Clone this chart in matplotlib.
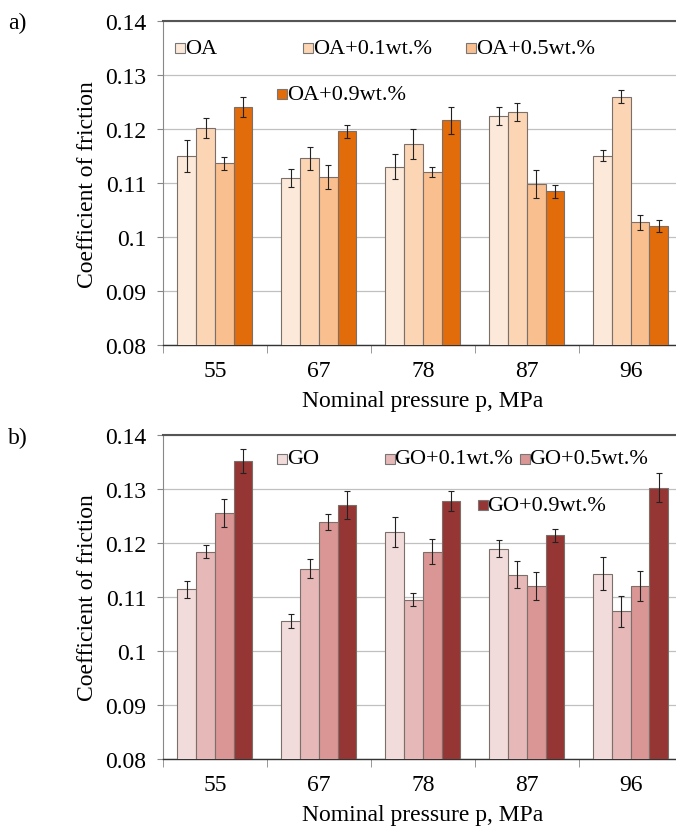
import numpy as np
import matplotlib
matplotlib.use("Agg")
import matplotlib.pyplot as plt

plt.rcParams['font.family'] = ['Liberation Serif', 'DejaVu Serif']

# x categories
pressures = ["55", "67", "78", "87", "96"]

# panel a) oleic acid series
oa_names = ["OA", "OA+0.1wt.%", "OA+0.5wt.%", "OA+0.9wt.%"]
oa_vals = [
    [0.1151, 0.1110, 0.1131, 0.1225, 0.1151],
    [0.1202, 0.1146, 0.1173, 0.1232, 0.1260],
    [0.1137, 0.1111, 0.1121, 0.1098, 0.1028],
    [0.1241, 0.1196, 0.1217, 0.1085, 0.1020],
]
oa_err = [
    [0.0030, 0.0017, 0.0023, 0.0017, 0.0010],
    [0.0019, 0.0022, 0.0028, 0.0016, 0.0012],
    [0.0012, 0.0022, 0.0010, 0.0026, 0.0014],
    [0.0019, 0.0012, 0.0025, 0.0012, 0.0011],
]
oa_colors = ["#fde9d9", "#fcd5b4", "#fabf8f", "#e26b0a"]

# panel b) graphene oxide series
go_names = ["GO", "GO+0.1wt.%", "GO+0.5wt.%", "GO+0.9wt.%"]
go_vals = [
    [0.1114, 0.1056, 0.1220, 0.1189, 0.1143],
    [0.1183, 0.1152, 0.1095, 0.1141, 0.1073],
    [0.1255, 0.1238, 0.1183, 0.1120, 0.1120],
    [0.1351, 0.1270, 0.1277, 0.1214, 0.1302],
]
go_err = [
    [0.0016, 0.0013, 0.0028, 0.0016, 0.0030],
    [0.0012, 0.0017, 0.0012, 0.0025, 0.0029],
    [0.0026, 0.0015, 0.0023, 0.0026, 0.0027],
    [0.0022, 0.0026, 0.0018, 0.0012, 0.0026],
]
go_colors = ["#f2dcdb", "#e6b8b7", "#da9694", "#963634"]

FS = 17
LEG_FS = 16


def panel(ax, names, vals, errs, colors, leg_pos):
    x = np.arange(len(pressures))
    w = 0.18
    for i in range(len(names)):
        ax.bar(x + (i - 1.5) * w, vals[i], w, color=colors[i], edgecolor="#7a6f6a",
               linewidth=0.8, zorder=3)
        ax.errorbar(x + (i - 1.5) * w, vals[i], yerr=errs[i], fmt="none",
                    ecolor="#222222", elinewidth=0.8, capsize=2.5, capthick=0.8, zorder=4)
    ax.set_xlim(-0.5, 4.5)
    ax.set_ylim(0.08, 0.14)
    ax.set_yticks([0.08, 0.09, 0.10, 0.11, 0.12, 0.13, 0.14])
    ax.set_yticklabels(["0.08", "0.09", "0.1", "0.11", "0.12", "0.13", "0.14"])
    ax.set_xticks(x)
    ax.set_xticklabels(pressures)
    ax.set_xticks(np.arange(-0.5, 5, 1.0), minor=True)
    ax.tick_params(axis="x", which="major", length=0, pad=11, labelsize=FS)
    ax.tick_params(axis="x", which="minor", length=6, color="#888888", direction="out")
    ax.tick_params(axis="y", length=4, color="#888888", pad=8, labelsize=FS)
    ax.grid(axis="y", color="#c0c0c0", linewidth=0.9, zorder=0)
    ax.spines["right"].set_visible(False)
    ax.spines["top"].set_color("#555555")
    ax.spines["top"].set_linewidth(1.5)
    ax.spines["left"].set_color("#888888")
    ax.spines["bottom"].set_color("#333333")
    ax.spines["bottom"].set_linewidth(1.0)
    ax.set_ylabel("Coefficient of friction", fontsize=FS, labelpad=5)
    ax.set_xlabel("Nominal pressure p, MPa", fontsize=FS, labelpad=6)
    # Excel-style legend entries placed freely
    for i in range(len(names)):
        lx, ly = leg_pos[i]
        ax.plot([lx + 0.008], [ly], marker="s", markersize=7, markerfacecolor=colors[i],
                markeredgecolor="#777777", markeredgewidth=0.8, linestyle="none",
                transform=ax.transAxes, clip_on=False, zorder=5)
        ax.text(lx + 0.017, ly, names[i], fontsize=LEG_FS, va="center", ha="left",
                transform=ax.transAxes, zorder=5)


fig = plt.figure(figsize=(6.76, 8.28), dpi=100)
ax1 = fig.add_axes([0.241, 0.582, 0.769, 0.391])
ax2 = fig.add_axes([0.241, 0.082, 0.769, 0.392])

panel(ax1, oa_names, oa_vals, oa_err, oa_colors,
      [(0.025, 0.917), (0.272, 0.917), (0.585, 0.917), (0.221, 0.775)])
panel(ax2, go_names, go_vals, go_err, go_colors,
      [(0.221, 0.926), (0.428, 0.926), (0.688, 0.926), (0.607, 0.782)])

fig.text(0.012, 0.972, "a)", fontsize=FS, va="center", ha="left")
fig.text(0.012, 0.470, "b)", fontsize=FS, va="center", ha="left")

fig.savefig("out.png", dpi=100)
